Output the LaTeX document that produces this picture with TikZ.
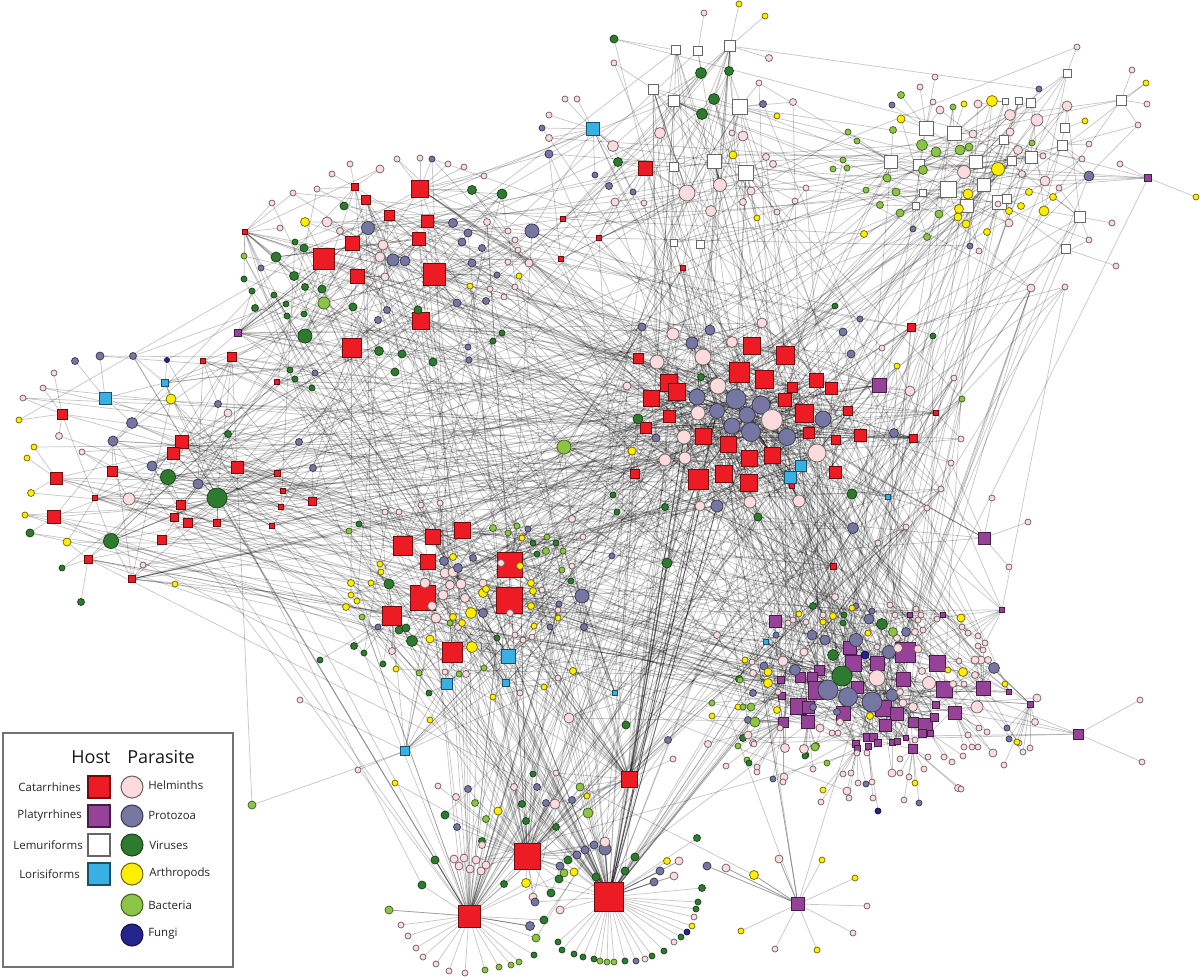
\documentclass[tikz,border=0pt]{standalone}
\usepackage{fontspec}
\setmainfont{Open Sans}
\usetikzlibrary{backgrounds}
\definecolor{catc}{RGB}{237,28,36}
\definecolor{plac}{RGB}{150,66,152}
\definecolor{lorc}{RGB}{56,176,228}
\definecolor{helc}{RGB}{251,219,222}
\definecolor{proc}{RGB}{118,118,162}
\definecolor{virc}{RGB}{46,122,46}
\definecolor{artc}{RGB}{255,238,0}
\definecolor{bacc}{RGB}{140,196,70}
\definecolor{func}{RGB}{36,36,140}
\tikzset{
  nd/.style={inner sep=0pt, outer sep=0pt, line width=0.55pt},
  sq/.style={minimum size=0.75pt*#1},
  cr/.style={minimum size=1.5pt*#1},
  cat/.style={nd, rectangle, fill=catc, draw=catc!45!black},
  pla/.style={nd, rectangle, fill=plac, draw=plac!45!black},
  lem/.style={nd, rectangle, fill=white, draw=black!60},
  lor/.style={nd, rectangle, fill=lorc, draw=lorc!45!black},
  hel/.style={nd, circle, fill=helc, draw=helc!45!black},
  pro/.style={nd, circle, fill=proc, draw=proc!50!black},
  vir/.style={nd, circle, fill=virc, draw=virc!55!black},
  art/.style={nd, circle, fill=artc, draw=artc!45!black},
  bac/.style={nd, circle, fill=bacc, draw=bacc!50!black},
  fun/.style={nd, circle, fill=func, draw=func!50!black},
  edge/.style={draw=black, opacity=0.22, line width=0.55pt},
  lab/.style={font=\fontsize{8.6}{10}\selectfont, text=black!85, inner sep=0pt},
  head/.style={font=\fontsize{13.5}{16}\selectfont, text=black!90, inner sep=0pt},
}
\def\nh{0}\def\np{0}
\newcommand\hubgroup[2]{%
  \expandafter\xdef\csname hlo@#1\endcsname{\the\numexpr\nh+1\relax}%
  \foreach \x/\y/\sz/\st in {#2}{%
    \pgfmathtruncatemacro\nn{\nh+1}\xdef\nh{\nn}%
    \node[\st, sq=\sz] (h\nn) at (\x,\y) {};%
    \expandafter\xdef\csname hx\nn\endcsname{\x}%
    \expandafter\xdef\csname hy\nn\endcsname{\y}%
  }%
  \expandafter\xdef\csname hhi@#1\endcsname{\nh}%
}
\newcommand\pargroup[4]{%
  \expandafter\xdef\csname plo@#1\endcsname{\the\numexpr\np+1\relax}%
  \edef\tmplo{\csname hlo@#2\endcsname}\edef\tmphi{\csname hhi@#3\endcsname}%
  \foreach \x/\y/\rad/\typ in {#4}{%
    \pgfmathtruncatemacro\nn{\np+1}\xdef\np{\nn}%
    \node[\typ, cr=\rad] (p\nn) at (\x,\y) {};%
    \expandafter\xdef\csname px\nn\endcsname{\x}%
    \expandafter\xdef\csname py\nn\endcsname{\y}%
    \expandafter\xdef\csname pr\nn\endcsname{\rad}%
    \expandafter\xdef\csname plo\nn\endcsname{\tmplo}%
    \expandafter\xdef\csname phi\nn\endcsname{\tmphi}%
  }%
  \expandafter\xdef\csname phi@#1\endcsname{\np}%
}
\newcommand\alledges{%
  \foreach \i in {1,...,\np}{%
    \edef\plow{\csname plo\i\endcsname}\edef\phigh{\csname phi\i\endcsname}%
    \edef\qx{\csname px\i\endcsname}\edef\qy{\csname py\i\endcsname}%
    \edef\qr{\csname pr\i\endcsname}%
    \gdef\bd{1000}\gdef\best{1}%
    \foreach \j in {\plow,...,\phigh}{%
      \edef\hxx{\csname hx\j\endcsname}\edef\hyy{\csname hy\j\endcsname}%
      \pgfmathsetmacro\dd{((\qx-\hxx)/100)^2+((\qy-\hyy)/100)^2}%
      \pgfmathtruncatemacro\cmp{\dd<\bd}%
      \ifnum\cmp=1 \xdef\bd{\dd}\xdef\best{\j}\fi
    }%
    \draw[edge] (p\i) -- (h\best);%
    \pgfmathtruncatemacro\ex{max(0,floor(1.6*(\qr-3)+3*max(0,\qr-6)))}%
    \ifnum\ex>0
      \foreach \k in {1,...,\ex}{%
        \pgfmathrandominteger{\coin}{0}{2}%
        \ifnum\coin=0 \pgfmathrandominteger{\hh}{1}{\nh}\else\pgfmathrandominteger{\hh}{\plow}{\phigh}\fi
        \draw[edge] (p\i) -- (h\hh);%
      }%
    \fi
  }%
}
\newcommand\gx[3]{%
  \edef\ghl{\csname hlo@#1\endcsname}\edef\ghh{\csname hhi@#1\endcsname}%
  \edef\gpl{\csname plo@#2\endcsname}\edef\gph{\csname phi@#2\endcsname}%
  \foreach \k in {1,...,#3}{%
    \pgfmathrandominteger{\rha}{\ghl}{\ghh}%
    \pgfmathrandominteger{\rpb}{\gpl}{\gph}%
    \draw[edge] (h\rha) -- (p\rpb);}%
}
\begin{document}
\begin{tikzpicture}[x=0.75pt,y=-0.75pt]
\pgfmathsetseed{7}
\useasboundingbox (0,0) rectangle (1200,978);
% ---------------- hosts ----------------
\hubgroup{A}{752/346/17/cat, 785/355/18/cat, 739/372/20/cat, 764/379/18/cat, 669/383/17/cat, 677/392/17/cat, 651/398/16/cat, 638/358/10/cat, 792/387/10/cat, 816/380/14/cat, 831/388/12/cat, 785/400/13/cat, 804/413/18/cat, 848/411/9/cat, 669/416/12/cat, 646/428/11/cat, 703/436/16/cat, 728/444/16/cat, 809/433/11/cat, 836/440/9/cat, 749/458/16/cat, 772/455/16/cat, 698/479/20/cat, 724/474/17/cat, 749/483/17/cat, 835/472/12/cat, 635/474/9/cat, 860/435/12/cat, 911/327/8/cat, 913/438/8/cat, 936/413/5/cat, 833/566/6/cat, 683/268/5/cat, 792/486/5/cat, 801/466/11/lor, 790/477/12/lor, 888/497/5/lor, 879/385/14/pla}
\hubgroup{B}{420/189/17/cat, 324/259/21/cat, 434/274/22/cat, 352/243/14/cat, 357/276/14/cat, 389/215/10/cat, 366/200/9/cat, 355/187/7/cat, 427/221/12/cat, 419/239/13/cat, 421/321/17/cat, 352/348/19/cat, 245/232/5/cat, 238/333/7/pla}
\hubgroup{C}{62/414/10/cat, 56/478/12/cat, 54/517/13/cat, 112/471/10/cat, 182/442/13/cat, 173/453/12/cat, 237/467/12/cat, 232/357/9/cat, 203/361/5/cat, 277/382/5/cat, 95/498/5/cat, 181/505/9/cat, 174/517/8/cat, 188/523/9/cat, 217/523/7/cat, 162/540/9/cat, 88/559/8/cat, 132/579/7/cat, 277/473/6/cat, 283/491/5/cat, 281/507/5/cat, 312/501/8/cat, 272/526/5/cat, 105/398/12/lor, 165/383/7/lor}
\hubgroup{D}{403/546/19/cat, 433/537/15/cat, 462/530/16/cat, 428/562/15/cat, 510/565/25/cat, 423/598/25/cat, 509/600/26/cat, 392/616/19/cat, 452/652/20/cat, 508/656/14/lor, 447/684/11/lor, 506/683/7/lor, 405/751/9/lor, 615/693/5/lor}
\hubgroup{E1}{469/916/22/cat}
\hubgroup{E2}{527/856/26/cat, 629/779/16/cat}
\hubgroup{E3}{609/897/29/cat}
\hubgroup{F}{775/621/12/pla, 850/648/13/pla, 853/663/16/pla, 877/663/14/pla, 905/652/20/pla, 937/663/16/pla, 903/679/14/pla, 819/670/10/pla, 812/677/10/pla, 800/677/10/pla, 817/690/18/pla, 857/687/12/pla, 798/706/16/pla, 808/707/12/pla, 843/713/14/pla, 883/708/16/pla, 897/714/13/pla, 944/689/16/pla, 983/688/14/pla, 955/713/13/pla, 781/680/7/pla, 782/696/7/pla, 783/722/10/pla, 808/722/13/pla, 885/725/12/pla, 925/725/14/pla, 913/722/10/pla, 934/717/8/pla, 936/705/7/pla, 867/737/8/pla, 873/737/8/pla, 878/743/7/pla, 856/744/7/pla, 868/746/6/pla, 892/742/6/pla, 897/741/6/pla, 906/738/5/pla, 913/749/9/pla, 857/748/6/pla, 922/733/8/pla, 930/733/6/pla, 910/615/5/pla, 943/615/5/pla, 1002/610/5/pla, 1030/704/6/pla, 1009/692/5/pla, 766/642/5/lor}
\hubgroup{FS}{798/904/13/pla}
\hubgroup{G}{926/128/14/lem, 954/133/14/lem, 891/162/13/lem, 919/165/11/lem, 976/162/13/lem, 948/189/16/lem, 984/185/13/lem, 999/202/14/lem, 1007/199/9/lem, 967/206/13/lem, 923/193/7/lem, 916/206/7/lem, 1004/140/9/lem, 1012/161/9/lem, 1031/157/12/lem, 1005/101/6/lem, 1019/101/7/lem, 1031/103/9/lem, 1065/128/9/lem, 1062/145/10/lem, 1067/73/8/lem, 1121/100/10/lem, 1080/217/11/lem, 1066/249/9/lem, 1148/178/7/pla}
\hubgroup{T}{676/50/9/lem, 698/51/9/lem, 730/46/11/lem, 653/89/10/lem, 674/101/11/lem, 740/107/15/lem, 714/161/14/lem, 746/173/15/lem, 674/167/9/lem, 674/243/7/lem, 700/244/8/lem, 593/129/13/lor, 645/168/14/cat, 563/219/5/cat, 599/238/5/cat, 561/259/5/cat}
\hubgroup{M1}{984/538/12/pla}
\hubgroup{M2}{1078/734/10/pla}
% ---------------- parasites ----------------
\pargroup{PA}{A}{A}{697/397/8/pro, 736/399/10/pro, 761/405/9/pro, 717/411/7.5/pro, 747/415/8/pro, 732/426/8/pro, 751/432/9.5/pro, 787/437/8.5/pro, 823/419/8/pro, 692/343/6/pro, 710/330/5/pro, 642/327/4/pro, 843/332/4/pro, 851/354/4/pro, 656/438/4/pro, 717/506/6/pro, 860/319/3/pro, 894/433/4.5/pro, 853/528/5.5/pro, 772/420/10.5/hel, 817/453/9/hel, 718/386/8/hel, 703/357/8/hel, 657/362/7/hel, 673/334/6/hel, 732/342/5.5/hel, 698/413/7/hel, 684/437/7/hel, 685/458/6/hel, 665/460/6/hel, 750/502/6/hel, 799/501/6/hel, 700/506/5/hel, 627/386/4/hel, 762/323/5/hel, 882/348/3/hel, 910/391/5/hel, 954/378/3/hel, 961/439/3/hel, 951/463/3/hel, 941/489/3/hel, 927/508/3/hel, 906/527/3/hel, 878/543/3/hel, 1031/288/4/hel, 1065/287/3/hel, 638/419/5/vir, 701/377/3.5/vir, 852/494/5/vir, 665/507/3.5/vir, 758/517/4/vir, 613/495/3/vir, 835/306/3/vir, 933/336/3/vir, 667/563/5/vir, 632/451/4/art, 897/366/3/art, 962/399/3/bac, 564/447/7/bac}
\pargroup{PB}{B}{B}{368/228/6.5/pro, 393/260/6/pro, 405/261/5/pro, 453/223/4.5/pro, 468/233/4/pro, 462/242/4/pro, 482/248/3.5/pro, 472/263/4/pro, 532/231/7/pro, 457/303/4/pro, 486/301/3.5/pro, 387/310/3.5/pro, 378/320/3.5/pro, 497/275/3/pro, 468/347/3/pro, 469/360/3/pro, 261/268/3/pro, 432/159/3/pro, 548/154/3/pro, 327/222/5/hel, 340/231/3.5/hel, 383/245/5/hel, 380/257/5/hel, 385/277/4/hel, 380/169/4/hel, 350/164/3/hel, 332/174/3/hel, 317/189/3/hel, 293/193/3/hel, 272/203/3/hel, 280/228/3/hel, 397/159/3/hel, 420/158/3/hel, 448/164/3/hel, 464/167/3/hel, 484/176/3/hel, 487/222/3.5/hel, 508/231/3/hel, 515/240/3/hel, 518/250/3/hel, 508/262/3/hel, 529/263/4/hel, 515/287/3/hel, 490/289/3/hel, 504/297/3/hel, 472/190/4.5/vir, 502/194/5/vir, 344/206/4/vir, 295/242/3/vir, 304/248/4/vir, 276/257/5/vir, 294/276/4.5/vir, 305/287/3.5/vir, 322/289/4/vir, 244/279/3/vir, 252/291/3/vir, 274/295/3/vir, 286/304/3/vir, 287/316/3/vir, 304/314/3/vir, 255/308/3.5/vir, 353/307/4/vir, 418/310/4/vir, 305/336/7/vir, 379/351/4.5/vir, 402/354/4/vir, 433/362/4/vir, 395/372/4/vir, 290/370/3/vir, 502/333/3/vir, 493/341/3/vir, 324/303/6/bac, 244/256/3/bac, 305/222/4.5/art, 470/286/3/art, 519/276/3/art}
\pargroup{PC}{C}{C}{75/361/3.5/pro, 100/356/4/pro, 133/356/3.5/pro, 132/423/5.5/pro, 113/441/5/pro, 152/466/5/pro, 198/484/5/pro, 218/404/3.5/pro, 299/442/3.5/pro, 315/373/3/pro, 313/468/3.5/pro, 54/373/3/hel, 43/388/3/hel, 23/398/3/hel, 59/436/3.5/hel, 82/452/3/hel, 129/499/6/hel, 228/413/4/hel, 143/565/3/hel, 19/420/3/art, 34/447/3/art, 27/458/3/art, 31/493/3.5/art, 25/515/3/art, 67/542/4/art, 171/399/5/art, 175/584/3/art, 168/477/7.5/vir, 217/498/10/vir, 111/541/7.5/vir, 30/533/4/vir, 62/568/3/vir, 81/602/3.5/vir, 228/434/3.5/vir, 295/379/3/vir, 312/388/3/vir, 167/360/2.5/fun}
\pargroup{PD}{D}{D}{445/573/5/hel, 453/572/5/hel, 425/583/5/hel, 450/585/4.5/hel, 461/584/5/hel, 443/595/5/hel, 465/598/4.5/hel, 432/606/4.5/hel, 436/618/5/hel, 501/563/3.5/hel, 510/613/3.5/hel, 483/583/4/hel, 458/627/3.5/hel, 515/635/3/hel, 523/640/3/hel, 392/651/3.5/hel, 466/674/3.5/hel, 445/672/3/hel, 542/590/3/hel, 558/610/3/hel, 385/512/3/hel, 399/512/3/hel, 421/505/3/hel, 440/503/3/hel, 572/519/3.5/hel, 572/566/3/hel, 520/693/3/hel, 532/637/3/hel, 558/678/3/hel, 444/561/4.5/pro, 458/568/4.5/pro, 473/558/3.5/pro, 483/613/4.5/pro, 582/596/7/pro, 584/627/3.5/pro, 559/604/3/pro, 528/529/3/pro, 550/627/3/pro, 378/627/3/pro, 453/557/3.5/art, 520/566/3.5/art, 483/593/4.5/art, 486/589/3.5/art, 471/613/5.5/art, 453/617/3.5/art, 462/623/3.5/art, 531/583/3.5/art, 533/591/3.5/art, 531/606/3.5/art, 430/639/4/art, 472/647/5.5/art, 351/583/3.5/art, 351/595/3/art, 357/601/3/art, 346/607/3.5/art, 371/583/3/art, 380/564/3/art, 381/572/3/art, 396/669/3/art, 573/671/3.5/art, 522/538/3/art, 558/618/3/art, 534/626/3/art, 544/687/3/art, 493/697/3/art, 389/584/5/vir, 412/641/5.5/vir, 399/630/4/vir, 406/628/4/vir, 354/646/3.5/vir, 364/653/3/vir, 383/664/3/vir, 429/693/3/vir, 497/638/3/vir, 359/524/3/vir, 533/543/3/vir, 537/554/3/vir, 556/543/3/vir, 571/581/3/vir, 349/531/3/bac, 493/528/3.5/bac, 508/533/3/bac, 517/526/3/bac, 547/537/3/bac, 546/551/3.5/bac, 563/551/3/bac, 562/570/3/bac, 450/623/3/bac, 362/617/3/bac, 419/673/3/bac, 459/674/3/bac, 484/668/3/bac}
\pargroup{PE1}{E1}{E1}{401/925/3/hel, 408/936/3/hel, 416/948/3/hel, 423/957/3/hel, 436/964/3/hel, 449/971/3/hel, 465/973/3/hel, 485/970/3/bac, 499/967/3/bac, 511/965/3/bac, 519/962/3/bac, 534/955/3/vir, 389/910/4/bac, 422/885/4/vir, 435/860/4/vir, 530/926/4.5/pro, 544/920/4/vir, 536/938/4/bac}
\pargroup{PEH}{E1}{E2}{454/859/4/hel, 464/858/4/hel, 476/860/4/hel, 459/866/4/hel, 470/869/4/hel, 481/871/4/hel, 486/865/4/hel}
\pargroup{PE3}{E3}{E3}{558/942/3/vir, 562/950/3/vir, 574/954/3/vir, 583/957/3/vir, 594/959/3/vir, 600/961/3/bac, 607/962/3/bac, 614/962/3/bac, 625/961/3/vir, 636/961/3/pro, 645/959/3/hel, 652/956/3/vir, 664/951/3/vir, 674/942/3/hel, 681/937/3/vir, 687/932/3/fun, 692/926/3/art, 694/917/3/hel, 696/909/3/vir, 698/902/3/vir, 702/888/3.5/vir, 697/838/3.5/vir, 679/861/4/hel, 667/861/3.5/art, 660/871/4/pro, 674/876/4/hel, 654/882/4/pro, 635/857/4/vir, 625/871/4/vir, 596/877/4/vir}
\pargroup{PEM}{E1}{E3}{568/860/4/vir, 564/873/4/bac, 574/872/4/art, 559/879/4/vir, 560/866/4/pro, 577/855/4/pro, 585/850/4/pro, 594/845/4/pro, 605/849/6/pro, 605/842/5/hel, 551/893/4/vir, 560/910/4/hel, 533/897/4/hel, 535/902/4/pro, 526/883/4.5/art, 504/884/3.5/vir, 445/815/4/vir, 457/827/3.5/pro, 482/841/3.5/vir, 482/845/3.5/hel, 498/811/4/art, 526/821/3.5/vir, 486/819/3.5/bac, 475/803/3.5/bac, 522/804/3.5/vir, 546/803/3.5/pro, 555/804/5/hel, 572/800/3.5/pro, 556/827/3.5/vir, 580/787/4/bac, 587/796/3/art, 588/813/5/bac, 468/789/3.5/pro, 456/797/3.5/hel, 438/786/3/hel, 514/787/3.5/hel, 537/787/3.5/pro, 395/783/3/art, 533/774/3/vir, 556/773/3/hel}
\pargroup{PF}{F}{F}{828/690/10/pro, 848/697/9.5/pro, 872/702/10/pro, 892/695/6/pro, 844/681/5/pro, 856/640/6.5/pro, 825/640/5/pro, 812/635/5/pro, 795/670/5.5/pro, 889/652/6.5/pro, 906/632/4.5/pro, 869/619/5/pro, 764/666/4/pro, 753/693/3.5/pro, 748/720/3.5/pro, 813/707/3.5/pro, 994/668/5.5/pro, 1007/728/3/pro, 1009/739/3/pro, 776/635/3/pro, 837/712/3.5/pro, 872/611/3/pro, 856/606/3/pro, 842/676/10/vir, 882/624/5.5/vir, 833/655/5.5/vir, 813/606/3.5/vir, 843/623/3/vir, 844/615/3/vir, 743/738/3.5/vir, 806/755/3/vir, 739/679/3.5/vir, 865/655/4/fun, 877/678/8/hel, 929/683/6.5/hel, 898/648/4.5/hel, 918/649/4/hel, 783/661/5/hel, 804/652/4/hel, 913/707/4.5/hel, 900/692/3.5/hel, 903/703/4/hel, 977/707/6/hel, 981/660/4/hel, 953/684/3.5/hel, 922/671/3.5/hel, 897/638/3.5/hel, 915/632/3.5/hel, 923/630/3/hel, 937/619/3/hel, 918/620/3/hel, 890/605/3/hel, 895/615/3/hel, 916/609/3/hel, 921/615/3/hel, 835/597/3.5/hel, 877/647/3/hel, 753/673/3.5/hel, 752/662/3/hel, 806/622/3/hel, 788/623/3/hel, 793/620/3/hel, 823/615/3/hel, 962/627/3/hel, 968/633/3/hel, 978/636/3/hel, 985/643/3/hel, 978/646/3/hel, 983/650/3/hel, 975/660/4/hel, 988/660/3.5/hel, 975/675/3.5/hel, 964/684/3/hel, 959/661/3/hel, 1037/698/4/hel, 1035/722/3.5/hel, 1030/748/3/hel, 1023/752/3/hel, 1004/765/3/hel, 1019/743/3/hel, 979/728/3/hel, 987/732/3/hel, 968/735/3/hel, 978/747/3/hel, 964/747/3/hel, 944/757/3/hel, 928/757/3/hel, 915/740/3/hel, 867/753/3/hel, 857/753/3/hel, 838/733/3/hel, 832/733/3/hel, 820/728/4/hel, 840/722/3.5/hel, 803/748/3/hel, 753/743/3.5/hel, 778/692/3/hel, 780/728/3/hel, 748/735/4/hel, 717/635/3.5/hel, 961/618/4/art, 833/616/3.5/art, 799/614/3/art, 852/608/3/art, 823/622/3/art, 868/633/3/art, 948/670/3/art, 963/672/4.5/art, 768/672/4/art, 768/683/4.5/art, 745/660/3/art, 777/710/3.5/art, 870/716/3.5/art, 1005/684/3/art, 1017/742/3/art, 712/716/3/art, 738/707/3/art, 893/632/4.5/bac, 816/746/3.5/bac, 755/722/5/bac, 751/707/4/bac, 743/707/3/bac, 740/680/3/bac, 712/703/3/bac}
\pargroup{PFL}{F}{F}{878/811/3/fun, 919/803/3/pro, 904/800/3/hel, 873/798/3/hel, 849/798/3/hel, 847/791/4/hel, 821/802/3/hel, 823/790/3/art, 915/783/3/art, 958/788/3.5/hel, 961/789/3/hel, 952/762/3/hel, 963/756/3/hel, 993/753/4/hel, 972/747/3/hel, 924/769/3/hel, 909/777/3/hel, 900/773/3/hel, 892/773/4/hel, 900/759/3/hel, 872/782/3/hel, 866/784/3/pro, 858/783/3/hel, 851/773/3/hel, 843/774/3/hel, 813/769/3/hel, 784/777/4/hel, 783/782/3/hel, 773/779/3/pro, 757/772/3/hel, 757/767/3/hel, 726/766/3/hel, 827/763/3/bac, 805/756/3/vir, 815/747/4/bac, 804/749/4.5/hel, 785/748/4.5/hel, 754/744/3/hel, 738/746/3/bac, 747/760/3/bac, 749/763/3/vir}
\pargroup{PFS}{FS}{FS}{779/859/4/hel, 822/860/3/art, 855/878/3/art, 867/906/3/hel, 853/933/3/hel, 817/950/3/art, 775/949/3/hel, 741/931/3/art, 754/875/4.5/art, 726/868/4/hel, 707/866/4/pro}
\pargroup{PG}{G}{G}{901/95/3.5/bac, 893/130/3.5/bac, 922/145/5.5/bac, 936/152/5/bac, 960/150/5/bac, 969/147/4/bac, 923/170/4.5/bac, 887/178/4/bac, 896/192/4/bac, 880/205/3.5/bac, 900/213/4/bac, 866/190/3/bac, 848/132/3/bac, 857/141/3/bac, 843/160/3/bac, 847/168/3/bac, 833/169/3/bac, 939/214/4/bac, 927/237/3.5/bac, 953/107/3/bac, 1032/143/3/bac, 992/101/5.5/art, 998/169/6.5/art, 968/194/5/art, 959/209/4.5/art, 958/217/4/art, 966/224/4/art, 901/119/4/art, 964/104/3/art, 1044/211/5/art, 1029/192/3.5/art, 1021/206/3.5/art, 1009/211/3.5/art, 1053/197/3.5/art, 1085/121/3/art, 987/232/3.5/art, 864/234/3.5/art, 1196/197/3/art, 1146/83/3/art, 964/172/6.5/hel, 1010/115/5.5/hel, 1037/120/6/hel, 1067/106/5/hel, 1045/181/5/hel, 1018/150/4.5/hel, 1010/132/4/hel, 973/134/4/hel, 978/104/4/hel, 940/110/4/hel, 933/102/3/hel, 920/87/3/hel, 935/77/3/hel, 1009/223/4/hel, 1022/174/3.5/hel, 1059/188/3/hel, 1043/156/3/hel, 1089/144/3/hel, 1082/159/3/hel, 1120/164/3/hel, 1112/223/3/hel, 1089/240/3/hel, 998/204/3/hel, 979/251/3/hel, 1132/70/3/hel, 1147/104/3/hel, 1138/125/3/hel, 1116/266/3/hel, 1077/47/3/hel, 1089/176/5/pro, 1039/89/3/pro, 892/105/3/pro, 913/229/3/pro, 970/246/3/pro}
\pargroup{PT}{T}{T}{614/39/4/vir, 701/73/5.5/vir, 729/71/4.5/vir, 714/99/5.5/vir, 702/114/5.5/vir, 618/162/4.5/vir, 704/13/3/hel, 769/58/3.5/hel, 759/83/3/hel, 793/102/3.5/hel, 614/63/3/hel, 565/99/3/hel, 577/99/3/hel, 549/115/3/hel, 549/138/3.5/hel, 660/133/5.5/hel, 613/146/5.5/hel, 743/136/5/hel, 732/133/3/hel, 766/157/3.5/hel, 773/164/3.5/hel, 687/193/8/hel, 720/185/6.5/hel, 711/211/5.5/hel, 751/191/4/hel, 743/202/3.5/hel, 615/202/4/hel, 644/203/3/hel, 806/188/3/hel, 795/201/3/hel, 777/212/3/hel, 763/104/3.5/pro, 549/154/4/pro, 542/128/3/pro, 595/175/3/pro, 609/186/3.5/pro, 633/192/3/pro, 739/4/3/art, 765/16/3/art, 777/116/3/art, 733/155/4/art, 757/218/3/art}
\pargroup{PM1}{M1}{M1}{992/498/3/hel, 1028/522/3/hel, 1009/567/3/hel}
\pargroup{PM2}{M2}{M2}{1140/700/3/hel, 1142/762/3/hel}
\pargroup{PS}{A}{M2}{252/805/4/bac, 358/770/3/hel, 617/512/3/vir, 583/537/3/hel, 612/556/3/pro, 569/718/5/hel, 626/725/4/vir, 668/740/3.5/pro, 708/744/3.5/hel, 673/759/3/hel, 430/720/3/art, 320/660/3/vir, 300/700/3/hel}
% ---------------- connectors ----------------
\begin{pgfonlayer}{background}
\fill[white] (0,0) rectangle (1200,978);
\alledges
\gx{E1}{PD}{20}\gx{E2}{PD}{30}\gx{E3}{PD}{25}
\gx{E1}{PA}{15}\gx{E2}{PA}{30}\gx{E3}{PA}{35}
\gx{E2}{PB}{8}\gx{E3}{PB}{8}\gx{E1}{PC}{6}
\gx{F}{PA}{70}\gx{F}{PD}{25}\gx{FS}{PA}{4}\gx{A}{PF}{40}
\gx{A}{PB}{35}\gx{B}{PA}{30}\gx{A}{PD}{40}\gx{D}{PA}{40}
\gx{A}{PC}{20}\gx{C}{PA}{25}\gx{C}{PD}{25}\gx{D}{PC}{15}
\gx{B}{PD}{25}\gx{D}{PB}{15}\gx{B}{PC}{15}\gx{C}{PB}{15}
\gx{T}{PA}{35}\gx{A}{PT}{25}\gx{G}{PA}{15}\gx{A}{PG}{10}
\gx{T}{PG}{15}\gx{G}{PT}{10}\gx{T}{PB}{10}\gx{M1}{PA}{6}\gx{M2}{PF}{4}
\end{pgfonlayer}
% ---------------- legend ----------------
\draw[draw=black!55, line width=1pt, fill=white] (3,733) rectangle (233,967);
\node[head] (lhost) at (91,757) {Host};
\node[head] (lpar) at (161,757) {Parasite};
\node[cat, sq=22, line width=0.8pt] (lk1) at (99,787) {};
\node[pla, sq=22, line width=0.8pt] (lk2) at (99,816) {};
\node[lem, sq=22, line width=0.8pt] (lk3) at (99,845) {};
\node[lor, sq=22, line width=0.8pt] (lk4) at (99,874) {};
\node[lab, anchor=east] (lt1) at (81,787) {Catarrhines};
\node[lab, anchor=east] (lt2) at (82,816) {Platyrrhines};
\node[lab, anchor=east] (lt3) at (83,845) {Lemuriforms};
\node[lab, anchor=east] (lt4) at (80,874) {Lorisiforms};
\node[hel, cr=11, line width=0.8pt] (lp1) at (132,787) {};
\node[pro, cr=11, line width=0.8pt] (lp2) at (132,816) {};
\node[vir, cr=11, line width=0.8pt] (lp3) at (132,845) {};
\node[art, cr=11, line width=0.8pt] (lp4) at (132,874) {};
\node[bac, cr=11, line width=0.8pt] (lp5) at (132,905) {};
\node[fun, cr=11, line width=0.8pt] (lp6) at (132,935) {};
\node[lab, anchor=west] (lq1) at (148,785) {Helminths};
\node[lab, anchor=west] (lq2) at (148,815) {Protozoa};
\node[lab, anchor=west] (lq3) at (149,845) {Viruses};
\node[lab, anchor=west] (lq4) at (149,874) {Arthropods};
\node[lab, anchor=west] (lq5) at (148,905) {Bacteria};
\node[lab, anchor=west] (lq6) at (148,934) {Fungi};
\end{tikzpicture}
\end{document}
